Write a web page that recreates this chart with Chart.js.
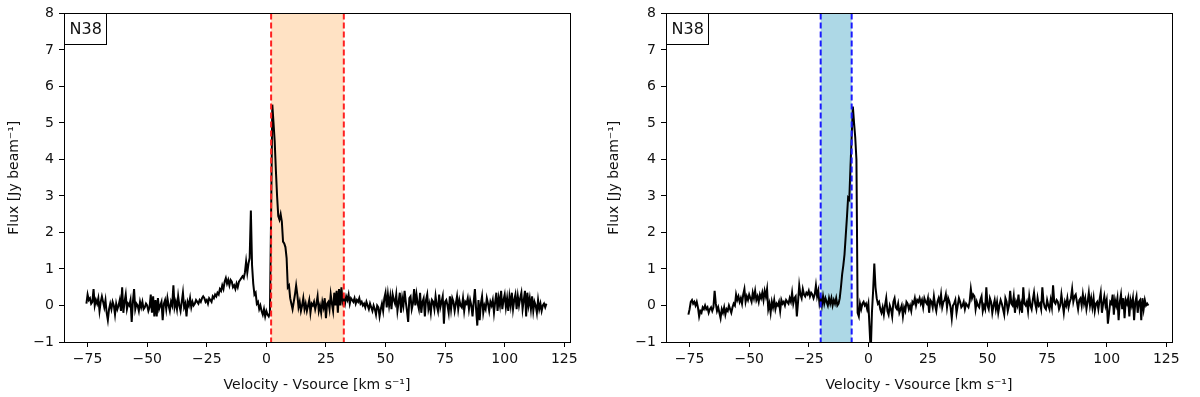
<!DOCTYPE html>
<html>
<head>
<meta charset="utf-8">
<script src="https://cdn.jsdelivr.net/npm/chart.js@4.4.0/dist/chart.umd.min.js"></script>
<style>
  html, body { margin: 0; padding: 0; background: #fff; }
  #wrap { position: relative; width: 1200px; height: 397px; }
  .panel { position: absolute; top: 0; width: 600px; height: 397px; }
</style>
</head>
<body>
<div id="wrap">
  <div class="panel" style="left:0"><canvas id="left-chart" width="600" height="397"></canvas></div>
  <div class="panel" style="left:600px"><canvas id="right-chart" width="600" height="397"></canvas></div>
</div>
<script>
// channel grid of both spectra (km/s)
const velocityStart = -75.5;
const channelWidth = 0.5;

// flux per channel, Jy/beam (10 km/s per two lines)
const fluxLeft = [
  0.05, 0.3, 0.15, 0.2, 0.05, 0.1, 0.45, 0.0, 0.15, 0.05,
  0.2, -0.15, 0.1, 0.25, 0.1, -0.05, 0.15, -0.2, -0.4, -0.1,
  0.05, -0.1, 0.1, 0.0, -0.25, 0.05, -0.1, 0.0, 0.15, -0.15,
  0.5, -0.2, 0.1, 0.3, -0.1, 0.05, 0.0, 0.15, -0.45, 0.1,
  0.45, -0.1, 0.05, 0.0, -0.15, 0.1, -0.05, 0.1, -0.1, -0.05,
  0.05, 0.0, -0.15, -0.05, 0.3, -0.2, 0.25, -0.3, 0.15, -0.3,
  0.2, -0.1, 0.0, 0.1, -0.4, 0.05, 0.15, -0.1, 0.2, 0.0,
  -0.15, 0.1, 0.0, 0.55, -0.05, 0.1, -0.1, 0.25, 0.0, -0.15,
  0.1, 0.35, -0.05, 0.05, -0.3, 0.1, 0.0, 0.2, -0.05, 0.1,
  0.0, 0.05, 0.15, 0.1, 0.05, 0.15, 0.1, 0.2, 0.25, 0.2,
  0.1, 0.15, 0.05, 0.2, 0.15, 0.1, 0.25, 0.2, 0.3, 0.25,
  0.35, 0.3, 0.45, 0.4, 0.55, 0.45, 0.65, 0.75, 0.6, 0.7,
  0.55, 0.7, 0.65, 0.5, 0.55, 0.45, 0.6, 0.5, 0.65, 0.7,
  0.75, 0.8, 0.75, 0.9, 1.2, 0.9, 1.15, 1.3, 2.6, 1.1,
  0.6, 0.3, 0.35, 0.05, 0.1, -0.1, 0.0, -0.15, -0.25, -0.1,
  -0.3, -0.15, -0.25, -0.3, -0.2, 2.5, 5.5, 5.0, 4.5, 3.7,
  3.0, 2.45, 2.35, 2.5, 2.3, 1.75, 1.7, 1.6, 1.3, 0.5,
  0.55, 0.2, 0.05, -0.1, 0.1, 0.3, 0.55, 0.3, -0.05, 0.1,
  -0.15, 0.0, 0.2, -0.1, 0.05, -0.15, 0.0, 0.15, -0.2, 0.05,
  0.0, 0.1, -0.1, 0.05, 0.25, -0.15, 0.0, -0.2, 0.1, -0.05,
  0.2, -0.35, 0.05, 0.1, -0.1, 0.3, 0.05, -0.15, 0.35, 0.0,
  0.4, -0.2, 0.45, 0.0, 0.5, 0.1, 0.2, 0.05, 0.25, 0.15,
  0.3, 0.05, 0.2, 0.15, 0.1, 0.2, 0.05, 0.15, 0.1, 0.2,
  0.05, 0.1, 0.0, 0.05, -0.05, 0.1, 0.0, -0.1, 0.05, -0.05,
  -0.15, 0.0, -0.1, -0.25, 0.0, -0.05, -0.3, -0.1, 0.05, -0.15,
  0.2, 0.35, -0.05, 0.3, 0.0, 0.25, -0.1, 0.3, 0.15, 0.05,
  0.3, -0.15, 0.1, 0.35, -0.2, 0.2, 0.0, 0.4, 0.1, -0.15,
  -0.45, 0.2, 0.25, -0.1, 0.05, 0.45, 0.0, 0.3, 0.05, -0.1,
  0.35, -0.2, 0.1, 0.2, -0.3, 0.15, 0.3, -0.1, 0.05, -0.2,
  0.15, 0.1, -0.1, 0.25, 0.0, -0.15, 0.3, -0.05, 0.1, 0.25,
  -0.5, 0.1, 0.15, 0.0, -0.2, 0.25, -0.1, 0.2, 0.1, -0.15,
  0.05, 0.25, -0.1, 0.15, 0.0, -0.05, 0.2, -0.15, 0.1, 0.05,
  0.2, -0.1, 0.15, 0.0, -0.3, 0.1, 0.45, -0.1, -0.55, 0.15,
  -0.4, 0.05, 0.25, -0.2, 0.0, -0.1, 0.2, 0.05, -0.15, 0.1,
  0.0, 0.15, -0.2, 0.1, 0.35, -0.15, 0.2, 0.0, 0.4, -0.1,
  0.15, 0.3, -0.05, 0.2, -0.15, 0.25, 0.0, 0.35, -0.1, 0.15,
  0.3, -0.1, 0.25, 0.0, 0.2, 0.35, -0.1, 0.15, 0.4, -0.3,
  0.35, 0.0, 0.2, -0.1, 0.25, -0.15, 0.1, 0.0, -0.2, 0.15,
  -0.1, 0.05, -0.15, 0.0, 0.05, -0.05, 0.05
];

const fluxRight = [
  -0.25, -0.1, 0.1, 0.15, 0.05, 0.1, 0.0, 0.1, -0.05, -0.3,
  -0.15, -0.2, -0.05, -0.1, 0.0, -0.1, -0.05, -0.2, -0.1, -0.05,
  -0.15, -0.05, 0.4, 0.05, -0.15, -0.05, -0.2, -0.35, -0.1, -0.2,
  -0.05, -0.25, -0.1, -0.15, 0.0, -0.1, -0.2, -0.05, 0.05, 0.0,
  0.3, 0.15, 0.25, 0.1, 0.2, 0.05, 0.3, 0.45, 0.1, 0.25,
  0.15, 0.3, 0.2, 0.1, 0.35, 0.2, 0.4, 0.15, 0.25, 0.1,
  0.3, 0.2, 0.35, 0.15, 0.4, 0.25, 0.45, -0.1, 0.05, -0.2,
  0.1, -0.05, 0.15, -0.1, 0.05, 0.0, 0.1, -0.15, 0.15, 0.05,
  0.1, 0.0, 0.15, 0.1, 0.05, 0.2, 0.1, 0.35, 0.05, 0.2,
  0.25, -0.3, 0.1, 0.55, 0.3, 0.2, 0.45, 0.3, 0.25, 0.35,
  0.3, 0.4, 0.25, 0.35, 0.3, 0.2, 0.3, 0.55, 0.25, 0.4,
  0.05, 0.2, 0.0, 0.25, 0.05, 0.2, 0.1, 0.0, 0.2, 0.05,
  0.2, 0.0, 0.15, 0.05, 0.2, 0.0, 0.05, 0.2, 0.5, 0.85,
  1.1, 1.4, 1.9, 2.4, 2.95, 2.9, 3.8, 4.6, 5.45, 5.0,
  4.6, 4.0, -0.2, -0.3, 0.05, -0.1, 0.05, 0.1, 0.0, 0.05,
  -0.1, 0.05, -0.6, -1.3, -0.2, 0.4, 1.15, 0.5, 0.2, 0.05,
  0.1, -0.1, -0.2, -0.05, -0.25, 0.0, 0.2, -0.15, -0.25, 0.0,
  -0.1, -0.3, 0.1, 0.2, -0.05, -0.1, 0.05, -0.2, -0.1, 0.0,
  -0.3, -0.05, -0.15, 0.1, 0.05, -0.1, 0.0, -0.15, 0.1, 0.05,
  0.2, 0.0, 0.15, 0.1, 0.2, 0.05, 0.15, -0.05, 0.2, 0.1,
  0.05, 0.2, -0.2, 0.15, 0.1, -0.05, 0.25, 0.0, -0.15, 0.1,
  0.2, 0.05, 0.3, -0.05, 0.1, 0.15, 0.3, -0.05, 0.2, 0.1,
  -0.05, -0.35, 0.0, 0.05, 0.15, -0.2, 0.0, 0.2, 0.1, -0.05,
  0.0, 0.1, -0.1, 0.05, 0.0, -0.05, 0.1, 0.45, 0.2, 0.3,
  0.25, -0.1, 0.1, 0.0, -0.05, 0.15, 0.25, -0.15, 0.0, -0.1,
  0.5, 0.0, -0.1, 0.2, 0.1, -0.2, 0.0, 0.15, -0.1, 0.1,
  -0.2, 0.0, 0.15, 0.05, -0.1, -0.25, 0.2, 0.1, -0.15, 0.0,
  0.4, 0.05, 0.0, 0.25, -0.2, 0.1, 0.0, 0.3, -0.1, 0.05,
  -0.2, 0.5, 0.05, 0.0, 0.1, -0.15, 0.25, 0.0, -0.1, 0.15,
  0.35, 0.05, -0.1, 0.2, 0.0, 0.05, -0.1, 0.5, 0.1, -0.05,
  -0.1, 0.15, 0.0, -0.1, 0.15, -0.05, 0.55, 0.1, 0.05, 0.15,
  0.1, -0.1, 0.0, 0.3, 0.05, -0.2, 0.1, 0.0, 0.2, -0.05,
  0.1, 0.2, 0.45, 0.1, 0.25, 0.3, 0.1, -0.1, 0.15, 0.2,
  0.0, 0.3, 0.05, 0.2, -0.1, 0.1, 0.35, 0.0, 0.2, -0.05,
  0.2, -0.15, 0.05, 0.1, -0.1, 0.15, 0.35, -0.2, 0.05, 0.25,
  0.0, 0.15, -0.5, -0.2, 0.1, 0.05, 0.3, -0.25, 0.15, 0.0,
  0.2, -0.4, 0.1, 0.3, -0.1, 0.2, -0.35, 0.15, 0.05, 0.2,
  -0.3, 0.15, 0.0, 0.2, -0.4, 0.1, 0.25, -0.2, 0.1, 0.15,
  -0.4, 0.2, -0.1, 0.15, 0.0, 0.05, 0.0
];

// integration windows (km/s)
const bandLeft = [2, 32.5];
const bandRight = [-20, -7];

const xTicks = [-75, -50, -25, 0, 25, 50, 75, 100, 125];
const yTicks = [-1, 0, 1, 2, 3, 4, 5, 6, 7, 8];
const sourceName = 'N38';

const FONT = 'DejaVu Sans';
const minus = v => String(v).replace('-', '\u2212');

const panelDecor = {
  id: 'panelDecor',
  beforeDatasetsDraw(chart, args, opts) {
    const { ctx, chartArea: a, scales: { x } } = chart;
    const x0 = x.getPixelForValue(opts.band[0]);
    const x1 = x.getPixelForValue(opts.band[1]);
    ctx.save();
    ctx.fillStyle = opts.fill;
    ctx.fillRect(x0, a.top, x1 - x0, a.bottom - a.top);
    ctx.restore();
  },
  afterDatasetsDraw(chart, args, opts) {
    const { ctx, chartArea: a, scales: { x } } = chart;
    ctx.save();
    ctx.strokeStyle = opts.edge;
    ctx.lineWidth = 2;
    ctx.setLineDash([6, 3]);
    opts.band.forEach((v) => {
      const px = x.getPixelForValue(v);
      ctx.beginPath();
      ctx.moveTo(px, a.top);
      ctx.lineTo(px, a.bottom);
      ctx.stroke();
    });
    ctx.setLineDash([]);
    // frame
    ctx.strokeStyle = '#000';
    ctx.lineWidth = 1;
    ctx.strokeRect(Math.round(a.left) + 0.5, Math.round(a.top) + 0.5,
      Math.round(a.right - a.left), Math.round(a.bottom - a.top));
    // label box
    ctx.font = '16px "' + FONT + '"';
    const w = Math.round(ctx.measureText(opts.label).width + 10);
    const bx = Math.round(a.left) + 0.5, by = Math.round(a.top) + 0.5;
    ctx.fillStyle = '#fff';
    ctx.fillRect(bx, by, w, 31);
    ctx.strokeRect(bx, by, w, 31);
    ctx.fillStyle = '#111';
    ctx.textBaseline = 'middle';
    ctx.fillText(opts.label, bx + 5, by + 16);
    ctx.restore();
  }
};

const renderChart = (selector, flux, band, fill, edge, leftWidth, rightPad) => {
  const points = flux.map((f, i) => ({ x: velocityStart + i * channelWidth, y: f }));
  new Chart(document.querySelector(selector), {
    type: 'line',
    data: {
      datasets: [{
        data: points,
        borderColor: '#000',
        borderWidth: 2,
        pointRadius: 0,
        tension: 0,
        fill: false
      }]
    },
    options: {
      responsive: false,
      animation: false,
      layout: { padding: { top: 11, right: rightPad, left: 0, bottom: 0 } },
      plugins: {
        legend: { display: false },
        tooltip: { enabled: false },
        panelDecor: { band, fill, edge, label: sourceName }
      },
      scales: {
        x: {
          type: 'linear',
          min: -84.9,
          max: 127.4,
          afterBuildTicks: (s) => { s.ticks = xTicks.map(v => ({ value: v })); },
          afterFit: (s) => { s.height = 55; },
          grid: { drawOnChartArea: false, drawTicks: true, tickLength: 5, tickColor: '#000' },
          border: { display: true, color: '#000', width: 1 },
          ticks: { color: '#111', padding: 4, maxRotation: 0, font: { family: FONT, size: 14 }, callback: minus },
          title: {
            display: true,
            text: 'Velocity - Vsource [km s\u207B\u00B9]',
            color: '#111',
            font: { family: FONT, size: 14 },
            padding: { top: 2, bottom: 3 }
          }
        },
        y: {
          min: -1,
          max: 8,
          afterBuildTicks: (s) => { s.ticks = yTicks.map(v => ({ value: v })); },
          afterFit: (s) => { s.width = leftWidth; },
          grid: { drawOnChartArea: false, drawTicks: true, tickLength: 5, tickColor: '#000' },
          border: { display: true, color: '#000', width: 1 },
          ticks: { color: '#111', padding: 5, font: { family: FONT, size: 14 }, callback: minus },
          title: {
            display: true,
            text: 'Flux [Jy beam\u207B\u00B9]',
            color: '#111',
            font: { family: FONT, size: 14 },
            padding: { top: 6, bottom: 2 }
          }
        }
      }
    },
    plugins: [panelDecor]
  });
};

renderChart('#left-chart', fluxLeft, bandLeft, '#FFE2C4', '#ff2020', 64, 30);
renderChart('#right-chart', fluxRight, bandRight, '#ADD8E6', '#1a1aff', 66, 28);
</script>
</body>
</html>
